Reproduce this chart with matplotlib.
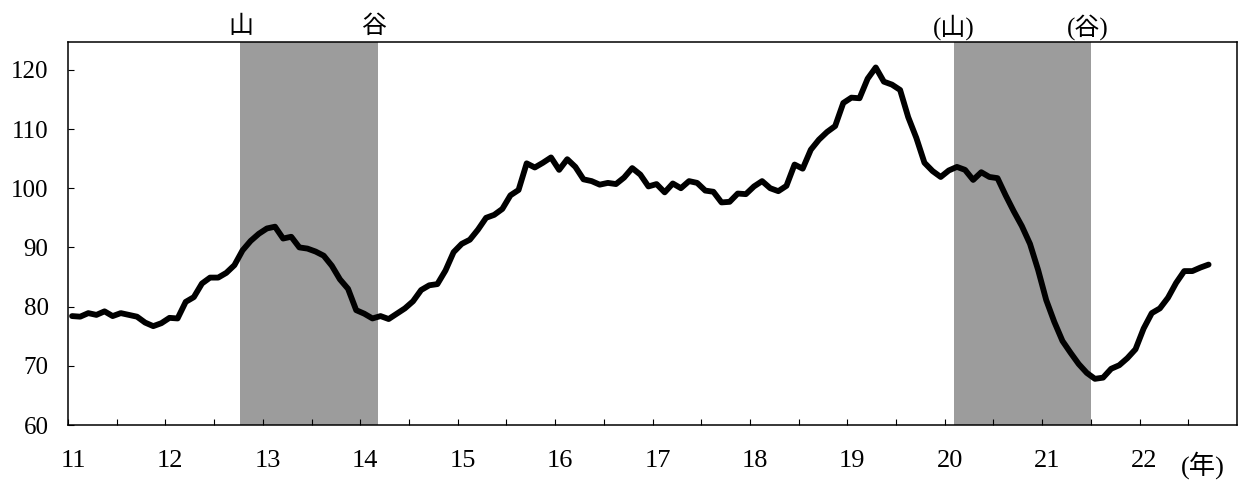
import numpy as np
import matplotlib
matplotlib.use("Agg")
import matplotlib.pyplot as plt
import matplotlib.transforms as mtransforms

# monthly index, Jan of year 11 through Sep of year 22
values = [
    78.4, 78.3, 78.9, 78.6, 79.2, 78.4, 78.9, 78.6, 78.3, 77.3, 76.7, 77.2,
    78.1, 78.0, 80.8, 81.6, 83.9, 84.9, 84.9, 85.7, 87.0, 89.5, 91.1, 92.3,
    93.2, 93.5, 91.5, 91.8, 90.0, 89.8, 89.3, 88.6, 86.9, 84.6, 83.0, 79.4,
    78.8, 78.0, 78.4, 77.9, 78.8, 79.7, 80.9, 82.8, 83.6, 83.8, 86.1, 89.2,
    90.6, 91.3, 93.0, 95.0, 95.5, 96.5, 98.8, 99.7, 104.2, 103.5, 104.3, 105.2,
    103.1, 104.9, 103.6, 101.5, 101.2, 100.6, 100.9, 100.7, 101.8, 103.4, 102.3, 100.3,
    100.7, 99.3, 100.8, 100.0, 101.2, 100.9, 99.6, 99.4, 97.6, 97.7, 99.1, 99.0,
    100.3, 101.2, 100.0, 99.5, 100.4, 104.0, 103.3, 106.5, 108.2, 109.5, 110.5, 114.4,
    115.3, 115.2, 118.5, 120.4, 118.0, 117.5, 116.6, 112.0, 108.5, 104.3, 102.9, 101.9,
    103.0, 103.6, 103.1, 101.4, 102.7, 101.9, 101.7, 98.8, 96.1, 93.6, 90.6, 86.2,
    81.1, 77.4, 74.2, 72.2, 70.3, 68.8, 67.8, 68.0, 69.5, 70.1, 71.3, 72.8,
    76.3, 78.9, 79.7, 81.5, 84.0, 86.0, 86.0, 86.6, 87.1,
]
start_year = 11
years = list(range(11, 23))

# recession periods (peak, trough) and labels
shade_start = [12.77, 20.09]
shade_end = [14.18, 21.50]
peak_labels = ["山", "(山)"]
trough_labels = ["谷", "(谷)"]

t = start_year + (np.arange(len(values)) + 0.5) / 12

serif = ["Liberation Serif", "Noto Sans CJK JP"]
plt.rcParams["font.family"] = serif

fig = plt.figure(figsize=(12.42, 4.86), dpi=100)
ax = fig.add_axes([68 / 1242, 61 / 486, 1169 / 1242, 383 / 486])

for s, e in zip(shade_start, shade_end):
    ax.axvspan(s, e, color="#9c9c9c", lw=0, zorder=1)

ax.plot(t, values, color="black", lw=4.2, solid_joinstyle="round",
        solid_capstyle="round", zorder=3)

ax.set_xlim(11.04, 23.0)
ax.set_ylim(60, 124.7)

ax.set_yticks(range(60, 121, 10))
ax.set_xticks(years)
ax.set_xticklabels([str(y) for y in years])
ax.set_xticks(np.arange(11.5, 23, 1.0), minor=True)
ax.tick_params(axis="y", direction="in", length=4, width=0.8,
               labelsize=18, pad=14)
ax.tick_params(axis="x", which="both", direction="in", length=4, width=0.8,
               labelsize=19, pad=18)
offset = mtransforms.ScaledTranslation(5 / 100, 0, fig.dpi_scale_trans)
for lab in ax.get_xticklabels():
    lab.set_transform(lab.get_transform() + offset)

for sp in ax.spines.values():
    sp.set_linewidth(1.1)

trans = mtransforms.blended_transform_factory(ax.transData, ax.transAxes)
for s, e, pl, tl in zip(shade_start, shade_end, peak_labels, trough_labels):
    ax.text(s, 1.04, pl, transform=trans, ha="center", va="center",
            fontsize=18, family=serif)
    ax.text(e - 0.03, 1.04, tl, transform=trans, ha="center", va="center",
            fontsize=18, family=serif)

fig.text(1203 / 1242, 1 - 465 / 486, "(年)", ha="center", va="center",
         fontsize=19, family=serif)

fig.savefig("out.png", dpi=100)
